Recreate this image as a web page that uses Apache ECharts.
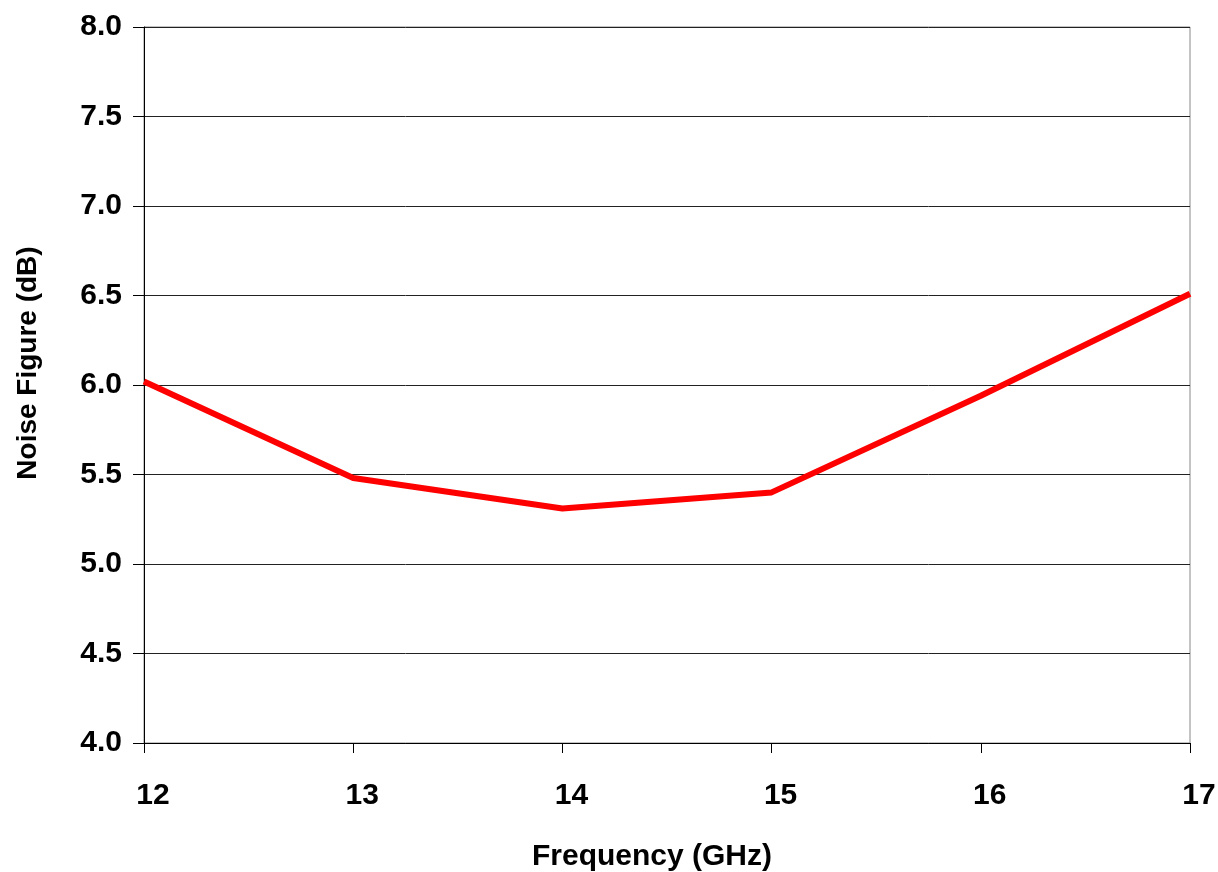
<!DOCTYPE html>
<html>
<head>
<meta charset="utf-8">
<script src="https://cdn.jsdelivr.net/npm/echarts@6/dist/echarts.min.js"></script>
<style>
html,body{margin:0;padding:0;background:#fff;}
#chart{width:1218px;height:872px;}
</style>
</head>
<body>
<div id="chart"></div>
<script>
var frequencies = [12, 13, 14, 15, 16, 17];
var noiseFigure = [6.02, 5.48, 5.31, 5.40, 5.94, 6.51];
var yTicks = ['4.0','4.5','5.0','5.5','6.0','6.5','7.0','7.5','8.0'];

var chart = echarts.init(document.getElementById('chart'));
var font = '"Liberation Sans", Arial, sans-serif';
chart.setOption({
  animation: false,
  backgroundColor: '#fff',
  grid: {left: 144, right: 28, top: 27, bottom: 129, show: true, borderColor: '#888', borderWidth: 1,
    backgroundColor: 'transparent', containLabel: false, outerBoundsMode: 'none'},
  xAxis: {
    type: 'value', min: 12, max: 17, interval: 1,
    name: 'Frequency (GHz)', nameLocation: 'middle', nameGap: 99,
    nameTextStyle: {fontFamily: font, fontWeight: 'bold', fontSize: 30, color: '#000', padding: [0, 30, 0, 0]},
    axisLine: {show: true, lineStyle: {color: '#000', width: 1}},
    axisTick: {show: true, length: 10, lineStyle: {color: '#000'}},
    axisLabel: {fontFamily: font, fontWeight: 'bold', fontSize: 30, color: '#000', margin: 38, padding: [0, 0, 0, 18],
      formatter: function(v){ return String(v); }},
    splitLine: {show: false}
  },
  yAxis: {
    type: 'value', min: 4, max: 8, interval: 0.5,
    name: 'Noise Figure (dB)', nameLocation: 'middle', nameGap: 102,
    nameTextStyle: {fontFamily: font, fontWeight: 'bold', fontSize: 28, color: '#000', padding: [0, 0, 0, 44]},
    axisLine: {show: true, lineStyle: {color: '#000', width: 1}},
    axisTick: {show: true, length: 11, lineStyle: {color: '#000'}},
    axisLabel: {fontFamily: font, fontWeight: 'bold', fontSize: 30, color: '#000', margin: 22,
      formatter: function(v){ var i = Math.round((v - 4) / 0.5); return yTicks[i]; }},
    splitLine: {show: true, lineStyle: {color: '#222', width: 1}}
  },
  series: [{
    type: 'line',
    data: frequencies.map(function(f, i){ return [f, noiseFigure[i]]; }),
    symbol: 'none',
    lineStyle: {color: '#ff0000', width: 6},
    clip: false
  }]
});
</script>
</body>
</html>
